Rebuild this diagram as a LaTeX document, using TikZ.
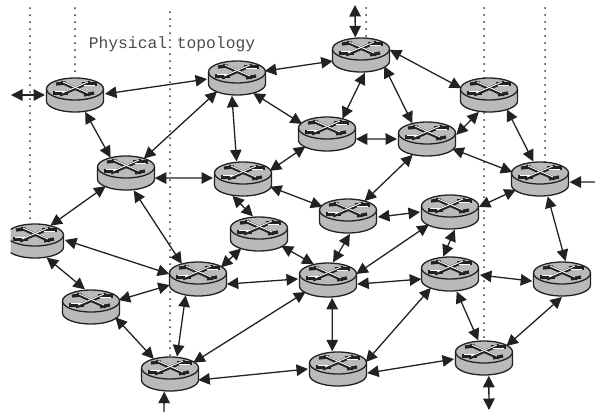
\documentclass[tikz,border=0pt]{standalone}
\usepackage{fontspec}
\setmonofont{Liberation Mono}
\usetikzlibrary{arrows.meta,shapes.geometric}
\definecolor{bodygray}{HTML}{B9BABC}
\definecolor{inkdark}{HTML}{222222}
\definecolor{labelgray}{HTML}{4A4A4A}
\tikzset{
  link/.style={line width=1.3bp,draw=inkdark,{Triangle[length=11.5bp,width=11.5bp]}-{Triangle[length=11.5bp,width=11.5bp]}},
  linkin/.style={line width=1.3bp,draw=inkdark,{Triangle[length=11.5bp,width=11.5bp]}-},
  dots/.style={line width=2bp,draw=black!80,line cap=round,dash pattern=on 0pt off 7bp},
  routerbox/.style={ellipse,minimum width=60bp,minimum height=36bp,inner sep=0pt,outer sep=0pt},
  crossblack/.style={line width=3.2bp,draw=inkdark},
  crosswhite/.style={line width=0.9bp,draw=white},
  router/.pic={
    \fill[bodygray] (-28.5,-6) -- (-28.5,6) arc[start angle=180,end angle=0,x radius=28.5,y radius=11] -- (28.5,-6) arc[start angle=0,end angle=-180,x radius=28.5,y radius=11] -- cycle;
    \draw[line width=1.3bp,draw=inkdark] (-28.5,-6) -- (-28.5,6) arc[start angle=180,end angle=0,x radius=28.5,y radius=11] -- (28.5,-6);
    \draw[line width=1.3bp,draw=inkdark] (0,-6) ellipse[x radius=28.5,y radius=11];
    \draw[crossblack] (-14,-13) -- (15,0);
    \draw[crossblack] (15,-13) -- (-15,0);
    \draw[crossblack] (-22,-2) -- (-7,-2);
    \draw[crossblack] (7,-11) -- (22,-11);
    \draw[crossblack] (-19,-11) -- (-9,-12);
    \draw[crossblack] (9,0) -- (19,-2);
    \draw[crosswhite] (-12,-13) -- (13,-2);
    \draw[crosswhite] (13,-13) -- (-13,-2);
    \draw[crosswhite] (-20,-3.5) -- (-9,-3.5);
    \draw[crosswhite] (9,-9.5) -- (20,-9.5);
  }
}
\newcommand{\routernode}[3]{\pic at (#2,#3) {router};\node[routerbox] (#1) at (#2,#3) {};}
\newcommand{\lnk}[4]{\draw[link] (#1.#2) -- (#3.#4);}
\begin{document}
\begin{tikzpicture}[x=1bp,y=-1bp]
\useasboundingbox (0,0) rectangle (595,412);
\clip (10.5,0) rectangle (595,412);
% dotted guides
\coordinate (d1a) at (30,8); \coordinate (d1b) at (30,224);
\coordinate (d2a) at (75,8); \coordinate (d2b) at (75,76);
\coordinate (d3a) at (170,12); \coordinate (d3b) at (170,358);
\coordinate (d4a) at (366,8); \coordinate (d4b) at (366,40);
\coordinate (d5a) at (484,8); \coordinate (d5b) at (484,342);
\coordinate (d6a) at (545,8); \coordinate (d6b) at (545,164);
\foreach \p in {1,...,6} {\draw[dots] (d\p a) -- (d\p b);}
\node[font=\ttfamily,text=labelgray,inner sep=0pt,anchor=center] (title) at (172,44) {\fontsize{16.3bp}{18bp}\selectfont Physical topology};
% routers
\routernode{r1}{75}{95}
\routernode{r2}{237}{78}
\routernode{r3}{126}{173}
\routernode{r4}{243}{179}
\routernode{r5}{361}{55}
\routernode{r6}{327}{134}
\routernode{r7}{427}{139}
\routernode{r8}{489}{95}
\routernode{r9}{540}{179}
\routernode{r10}{35}{241}
\routernode{r11}{91}{307}
\routernode{r12}{198}{279}
\routernode{r13}{259}{234}
\routernode{r14}{170}{374}
\routernode{r15}{348}{216}
\routernode{r16}{450}{212}
\routernode{r17}{328}{280}
\routernode{r18}{450}{274}
\routernode{r19}{562}{279}
\routernode{r20}{338}{369}
\routernode{r21}{484}{358}
% free ends
\coordinate (eL) at (11,95);
\coordinate (eT) at (355,5);
\coordinate (eR) at (596,182);
\coordinate (eB) at (164,412);
\coordinate (eD) at (489,410);
\draw[link] (eL) -- (r1.180);
\draw[link] (eT) -- (r5.108);
\draw[linkin] (r9.-6) -- (eR);
\draw[linkin] (r14.-108) -- (eB);
\draw[link] (r21.-75) -- (eD);
% links
\lnk{r1}{2}{r2}{182}
\lnk{r1}{-59}{r3}{135}
\lnk{r2}{214}{r3}{39}
\lnk{r2}{254}{r4}{110}
\lnk{r2}{-43}{r6}{158}
\lnk{r2}{14}{r5}{192}
\lnk{r5}{10}{r8}{166}
\lnk{r5}{-78}{r6}{45}
\lnk{r5}{-26}{r7}{133}
\lnk{r6}{-10}{r7}{180}
\lnk{r6}{210}{r4}{17}
\lnk{r7}{8}{r8}{239}
\lnk{r7}{-21}{r9}{166}
\lnk{r8}{-39}{r9}{111}
\lnk{r7}{228}{r15}{42}
\lnk{r3}{-10}{r4}{178}
\lnk{r3}{213}{r10}{45}
\lnk{r3}{-66}{r12}{137}
\lnk{r4}{238}{r13}{109}
\lnk{r4}{-16}{r15}{160}
\lnk{r13}{219}{r12}{27}
\lnk{r13}{-28}{r17}{132}
\lnk{r10}{2}{r12}{170}
\lnk{r10}{-55}{r11}{109}
\lnk{r11}{14}{r12}{192}
\lnk{r11}{-23}{r14}{137}
\lnk{r12}{233}{r14}{68}
\lnk{r12}{-10}{r17}{178}
\lnk{r17}{208}{r14}{26}
\lnk{r14}{-12}{r20}{180}
\lnk{r17}{-77}{r20}{108}
\lnk{r17}{-8}{r18}{190}
\lnk{r17}{12}{r16}{211}
\lnk{r15}{-84}{r17}{74}
\lnk{r15}{-2}{r16}{180}
\lnk{r16}{10}{r9}{204}
\lnk{r16}{-75}{r18}{111}
\lnk{r18}{-2}{r19}{184}
\lnk{r18}{216}{r20}{14}
\lnk{r18}{-69}{r21}{108}
\lnk{r19}{-90}{r21}{28}
\lnk{r9}{-66}{r19}{79}
\lnk{r20}{-8}{r21}{182}
\end{tikzpicture}
\end{document}
